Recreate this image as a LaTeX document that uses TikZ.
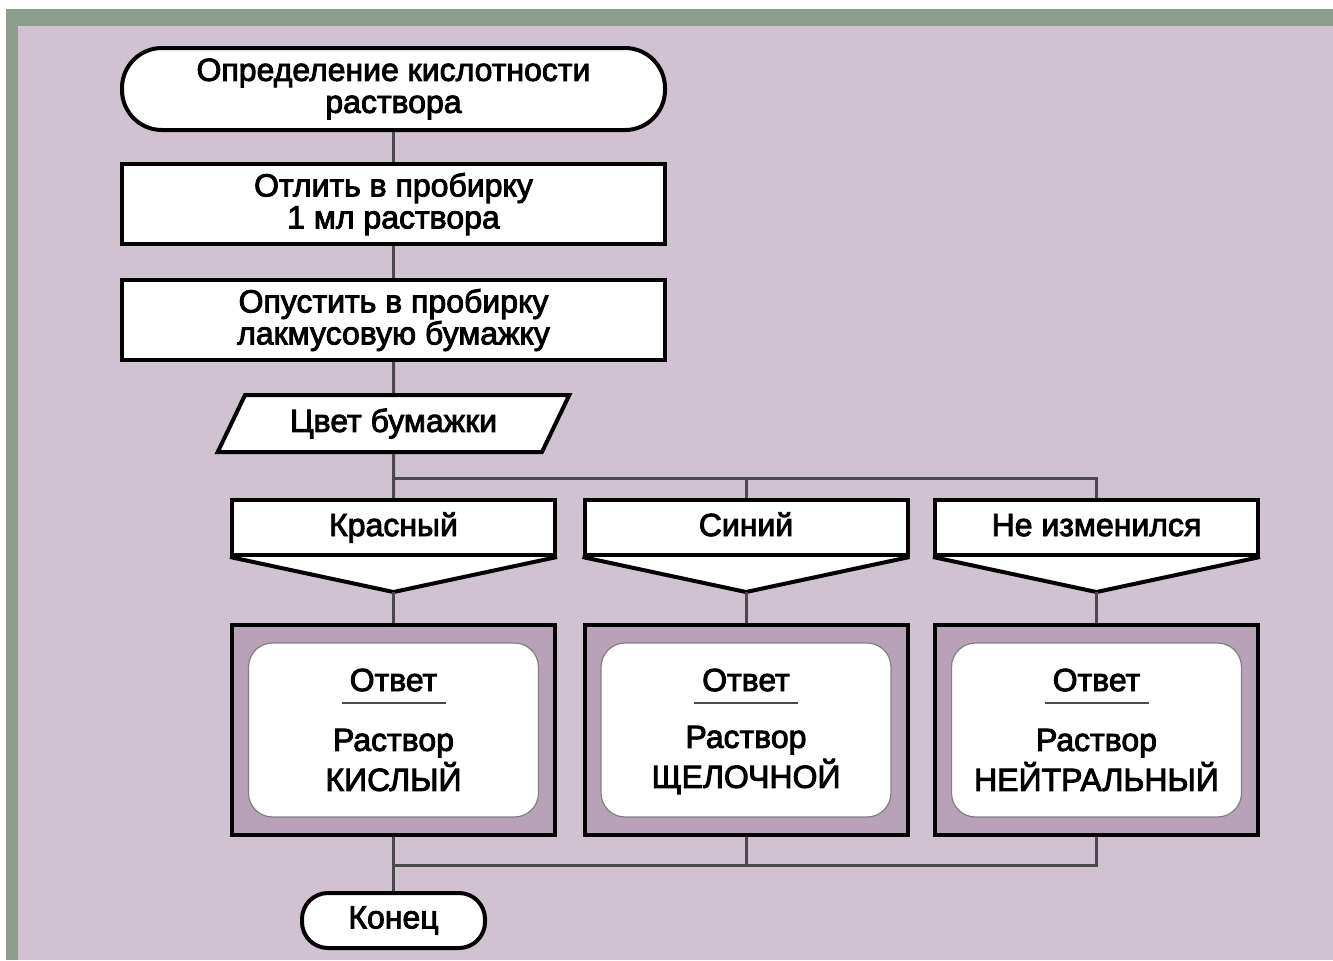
\documentclass[tikz,border=0pt]{standalone}
\usepackage{fontspec}
\setmainfont{Liberation Sans}[FakeBold=2.8]
\usetikzlibrary{shapes.geometric,calc}
\definecolor{bgpink}{HTML}{D0C2D0}
\definecolor{bggreen}{HTML}{8E9E8C}
\definecolor{framepink}{HTML}{B7A2B7}
\definecolor{linegray}{HTML}{4A4A4A}
\tikzset{
  box/.style={draw=black, line width=2pt, fill=white, align=center,
    font=\fontsize{16}{16}\selectfont},
  term/.style={box, rounded corners=20pt, minimum width=271.5pt, minimum height=41pt},
  proc/.style={box, minimum width=271.5pt, minimum height=40pt},
  inout/.style={box, trapezium, trapezium left angle=65, trapezium right angle=115,
    trapezium stretches=true, minimum width=176pt, minimum height=28.5pt},
  cond/.style={box, minimum width=161.5pt, minimum height=27.5pt, text height=11.5pt, text depth=3pt},
  answer/.style={draw=black, line width=2pt, fill=framepink, minimum width=161.5pt, minimum height=105pt},
  answerin/.style={draw=gray, line width=0.6pt, fill=white, rounded corners=12pt,
    minimum width=145pt, minimum height=87pt},
  anstext/.style={align=center, font=\fontsize{16}{20}\selectfont},
  conn/.style={draw=linegray, line width=1.5pt}
}
\begin{document}
\begin{tikzpicture}[x=0.5pt, y=-0.5pt]
  \useasboundingbox (0,0) rectangle (1333,960);
  \fill[white] (0,0) rectangle (1333,960);
  \fill[bggreen] (6,9) rectangle (1333,960);
  \fill[bgpink] (18,26) rectangle (1333,960);

  \node[term] (start) at (393.5,89) {Определение кислотности\\раствора};
  \node[proc] (pour) at (393.5,204) {Отлить в пробирку\\1 мл раствора};
  \node[proc] (dip) at (393.5,320) {Опустить в пробирку\\лакмусовую бумажку};
  \node[inout] (color) at (393.5,423.5) {Цвет бумажки};

  \node[cond] (red) at (393.5,527.5) {Красный};
  \node[cond] (blue) at (746,527.5) {Синий};
  \node[cond] (same) at (1096.5,527.5) {Не изменился};
  % triangles under the conditions
  \foreach \c in {red,blue,same} {
    \coordinate (\c tip) at ($(\c.south)+(0,35)$);
    \filldraw[draw=black, fill=white, line width=2pt, line join=round]
      (\c.south west) -- (\c tip) -- (\c.south east);
  }

  \foreach \n/\x/\w in {A/393.5/КИСЛЫЙ, B/746/ЩЕЛОЧНОЙ, C/1096.5/НЕЙТРАЛЬНЫЙ} {
    \node[answer] (ans\n) at (\x,730) {};
    \node[answerin] (ans\n in) at (ans\n) {};
    \node[anstext] (ans\n head) at (\x,680) {Ответ};
    \draw[line width=1.2pt, linegray] (\x-52,703) -- (\x+52,703);
    \node[anstext] (ans\n text) at (\x,760) {Раствор\\\w};
  }

  \node[term, rounded corners=13pt, minimum width=91.5pt, minimum height=27.5pt] (stop) at (393.5,920.5) {Конец};

  % connectors
  \coordinate (fork) at (393.5,478);
  \coordinate (join) at (393.5,865);
  \draw[conn] (start) -- (pour);
  \draw[conn] (pour) -- (dip);
  \draw[conn] (dip) -- (color);
  \draw[conn] (color.south) -- (red.north);
  \draw[conn] (fork) -| (blue.north);
  \draw[conn] (fork) -| (same.north);
  \draw[conn] (redtip) -- (ansA.north);
  \draw[conn] (bluetip) -- (ansB.north);
  \draw[conn] (sametip) -- (ansC.north);
  \draw[conn] (ansA.south) -- (stop.north);
  \draw[conn] (ansB.south) |- (join);
  \draw[conn] (ansC.south) |- (join);
\end{tikzpicture}
\end{document}
